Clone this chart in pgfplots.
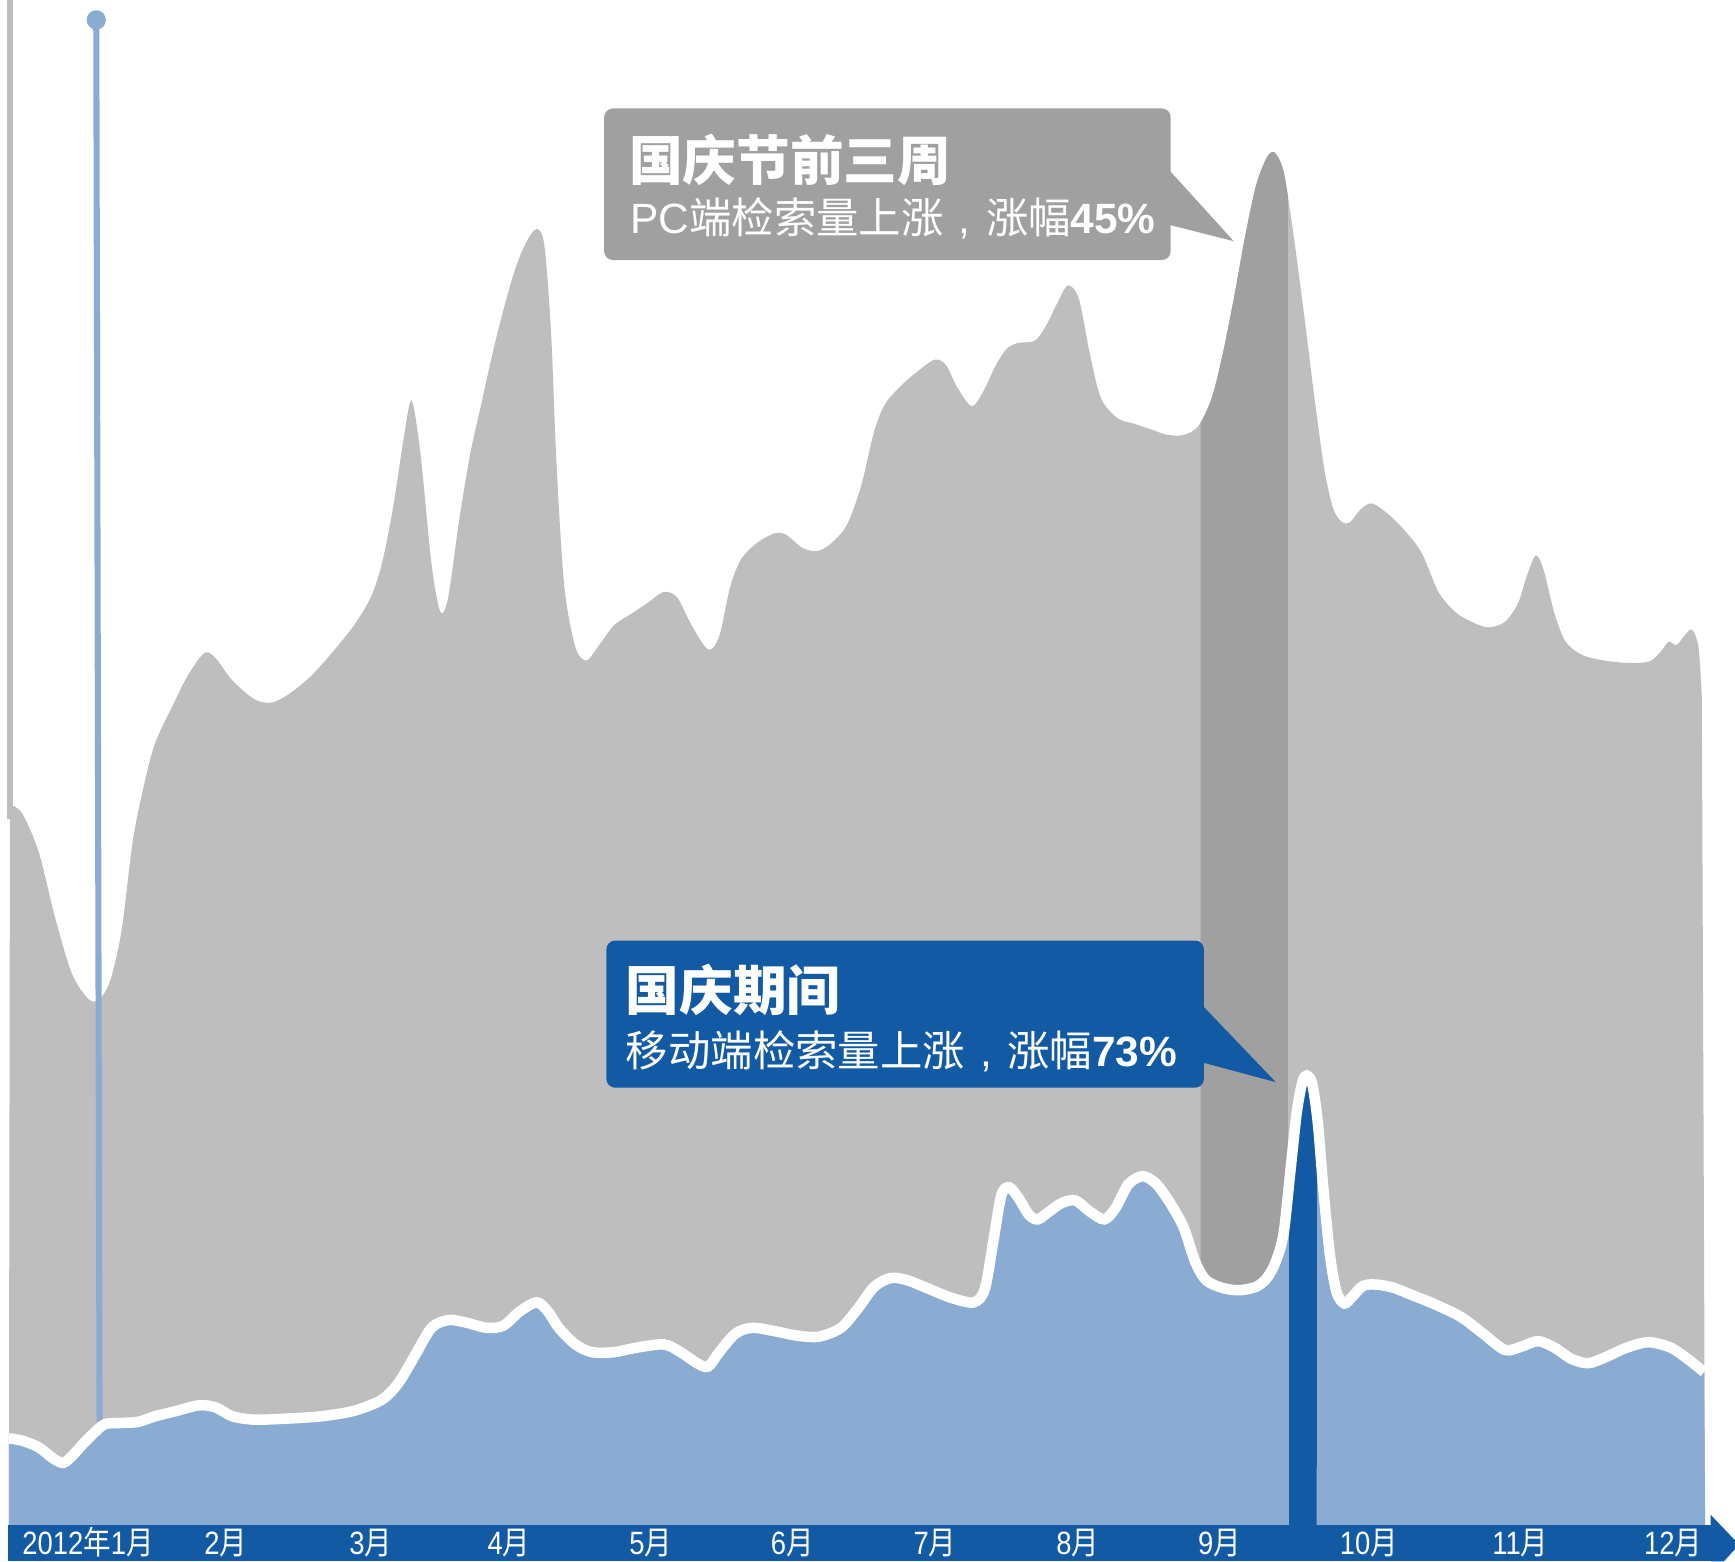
\documentclass[border=0pt]{standalone}
\usepackage{pgfplots}
\pgfplotsset{compat=1.18}
\usepackage{pgfplotstable}
\usepgfplotslibrary{fillbetween}
\usepackage{fontspec}
\setmainfont{Liberation Sans}
\newfontfamily\cjk{Noto Sans CJK SC}
\newfontfamily\narrowlat[FakeStretch=0.85]{Liberation Sans}
\newfontfamily\narrowcjk[FakeStretch=0.85]{Noto Sans CJK SC}
\definecolor{pcgray}{RGB}{190,190,190}
\definecolor{bandgray}{RGB}{160,160,160}
\definecolor{mobblue}{RGB}{138,171,210}
\definecolor{darkblue}{RGB}{19,90,165}
\newcommand\mlab[1]{{\narrowlat #1}{\narrowcjk 月}}
\newcommand\ccomma{\makebox[1em][c]{,}}

\pgfplotstableread{
x y
9 727
20 735
35 770
50 830
65 880
80 903
90 903
100 885
110 840
120 760
130 710
140 672
155 640
170 610
185 590
195 595
210 615
230 632
245 635
260 628
280 612
300 590
320 565
335 540
345 510
355 460
365 395
372 362
380 410
390 510
398 553
405 540
415 470
425 410
435 365
445 320
455 280
465 245
475 220
485 207
492 222
498 300
503 420
510 530
520 585
530 597
540 585
555 565
570 555
585 545
600 535
612 540
625 565
640 587
650 575
660 530
670 505
685 490
700 482
710 483
725 495
738 498
750 492
765 475
778 440
790 390
800 365
815 348
830 335
845 325
855 330
865 350
878 367
888 355
900 330
910 315
920 310
935 308
945 295
955 275
965 258
975 270
985 320
995 360
1010 378
1025 383
1040 388
1055 393
1070 393
1083 385
1095 360
1105 320
1115 270
1125 215
1135 168
1145 142
1152 138
1160 155
1168 205
1178 280
1188 360
1197 425
1205 460
1213 472
1220 472
1230 460
1240 455
1255 465
1270 480
1285 500
1300 535
1315 553
1330 562
1345 567
1360 562
1372 545
1380 520
1388 502
1395 515
1405 555
1415 580
1430 592
1450 597
1470 599
1490 598
1500 590
1508 580
1515 583
1522 575
1529 569
1535 585
1538 630
}\pcdata

\pgfplotstableread{
x y
8 1300
20 1302
35 1308
48 1318
57 1322
65 1316
75 1305
85 1295
95 1287
110 1286
125 1285
140 1280
160 1275
180 1270
195 1272
210 1280
230 1283
260 1282
290 1280
320 1275
345 1265
360 1250
375 1225
390 1200
405 1193
420 1195
440 1200
455 1198
470 1185
485 1177
495 1185
505 1200
520 1215
535 1222
555 1222
575 1218
600 1215
615 1222
630 1232
640 1235
650 1222
665 1205
680 1200
700 1203
720 1207
740 1208
760 1200
775 1183
790 1163
805 1155
820 1157
840 1165
860 1173
880 1177
890 1165
898 1120
905 1080
912 1073
920 1082
930 1098
938 1102
948 1095
960 1087
972 1085
985 1095
998 1102
1008 1092
1020 1070
1033 1063
1045 1070
1058 1088
1070 1110
1080 1140
1090 1157
1105 1164
1120 1166
1135 1163
1145 1155
1153 1140
1160 1115
1166 1060
1172 1005
1177 978
1181 972
1186 980
1191 1015
1196 1075
1202 1135
1208 1168
1215 1178
1222 1172
1232 1162
1245 1161
1260 1164
1275 1170
1295 1178
1320 1190
1340 1205
1360 1220
1375 1217
1390 1212
1405 1218
1420 1228
1435 1232
1450 1227
1470 1218
1490 1213
1510 1218
1525 1228
1540 1240
}\mobdata

\begin{document}
\begin{tikzpicture}
\begin{axis}[
  scale only axis, width=156.8mm, height=141.1mm,
  xmin=0, xmax=1568, ymin=0, ymax=1411, y dir=reverse,
  hide axis, clip=true]
% PC series area
\addplot[draw=none, name path=pc, smooth] table[x=x,y=y] {\pcdata};
\addplot[draw=none, name path=base] coordinates {(8,1382) (1541,1382)};
\addplot[pcgray] fill between[of=pc and base];
\addplot[bandgray] fill between[of=pc and base, soft clip={domain=1085:1164}];
% left gray line and blue marker line
\addplot[pcgray, line width=0.55mm] coordinates {(9,0) (9,740)};
\addplot[mobblue, line width=0.55mm] coordinates {(87,18) (90,1297)};
\addplot[only marks, mark=*, mark size=0.8mm, mobblue] coordinates {(87,18)};
% mobile series area
\addplot[draw=none, name path=mob, smooth] table[x=x,y=y] {\mobdata};
\addplot[mobblue] fill between[of=mob and base];
\addplot[darkblue] fill between[of=mob and base, soft clip={domain=1165:1190}];
\addplot[white, line width=0.95mm, smooth] table[x=x,y=y] {\mobdata};
% bottom bar
\fill[darkblue] (axis cs:7,1378) rectangle (axis cs:1547,1411);
\fill[darkblue] (axis cs:1546,1369) -- (axis cs:1568,1392) -- (axis cs:1568,1400) -- (axis cs:1558,1411) -- (axis cs:1546,1411) -- cycle;
\begin{scope}[every node/.style={anchor=base, text=white, font=\fontsize{8.3pt}{9pt}\selectfont, inner sep=0pt}]
\node at (axis cs:79.5,1405) {{\narrowlat 2012}{\narrowcjk 年}{\narrowlat 1}{\narrowcjk 月}};
\node at (axis cs:204,1405) {\mlab{2}};
\node at (axis cs:335,1405) {\mlab{3}};
\node at (axis cs:460,1405) {\mlab{4}};
\node at (axis cs:588,1405) {\mlab{5}};
\node at (axis cs:716,1405) {\mlab{6}};
\node at (axis cs:845,1405) {\mlab{7}};
\node at (axis cs:974,1405) {\mlab{8}};
\node at (axis cs:1102,1405) {\mlab{9}};
\node at (axis cs:1237,1405) {\mlab{10}};
\node at (axis cs:1374,1405) {\mlab{11}};
\node at (axis cs:1512,1405) {\mlab{12}};
\end{scope}
% callout 1
\fill[bandgray, rounded corners=0.8mm] (axis cs:546,98) rectangle (axis cs:1058,235);
\fill[bandgray] (axis cs:1056,153) -- (axis cs:1115,218) -- (axis cs:1056,203) -- cycle;
\node[anchor=base west, text=white, inner sep=0pt, font=\fontsize{13.8pt}{15pt}\selectfont] at (axis cs:568,163) {\cjk\bfseries 国庆节前三周};
\node[anchor=base west, text=white, inner sep=0pt, font=\fontsize{10.9pt}{12pt}\selectfont] at (axis cs:569,211) {PC{\cjk 端检索量上涨}\ccomma{\cjk 涨幅}{\bfseries 45\%}};
% callout 2
\fill[darkblue, rounded corners=0.8mm] (axis cs:548,850) rectangle (axis cs:1088,983);
\fill[darkblue] (axis cs:1086,908) -- (axis cs:1153,978) -- (axis cs:1086,960) -- cycle;
\node[anchor=base west, text=white, inner sep=0pt, font=\fontsize{13.8pt}{15pt}\selectfont] at (axis cs:565,913) {\cjk\bfseries 国庆期间};
\node[anchor=base west, text=white, inner sep=0pt, font=\fontsize{10.9pt}{12pt}\selectfont] at (axis cs:565,964) {{\cjk 移动端检索量上涨}\ccomma{\cjk 涨幅}{\bfseries 73\%}};
\end{axis}
\end{tikzpicture}
\end{document}
